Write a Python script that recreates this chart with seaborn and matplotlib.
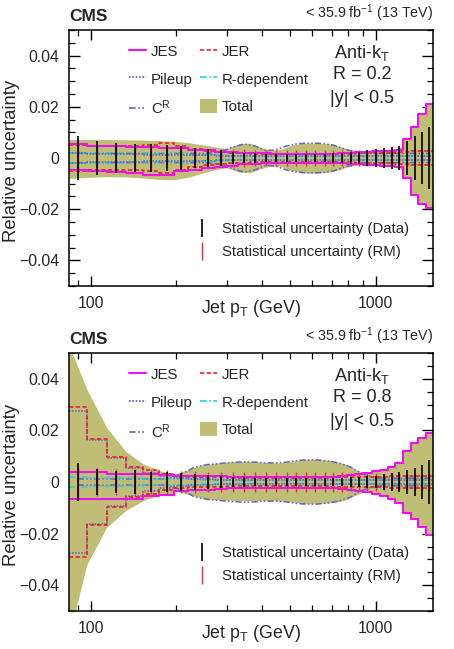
import numpy as np
import matplotlib
matplotlib.use("Agg")
import matplotlib.pyplot as plt
import seaborn as sns
from matplotlib.lines import Line2D
from matplotlib.patches import Patch
from matplotlib.ticker import FixedLocator, LogLocator, NullFormatter, FuncFormatter, MultipleLocator

# ---------------- data ----------------
edges = [84, 97, 114, 133, 153, 174, 196, 220, 245, 272, 300, 330, 362, 395, 430, 468,
         507, 548, 592, 638, 686, 737, 790, 846, 905, 967, 1032, 1101, 1172, 1248, 1327,
         1410, 1497, 1588]

# ---- R = 0.2 ----
jes02_up = [0.0055, 0.0045, 0.0045, 0.0043, 0.0043, 0.0040, 0.0038, 0.0033, 0.0030, 0.0025, 0.0022,
            0.0020, 0.0018, 0.0018, 0.0016, 0.0016, 0.0015, 0.0015, 0.0015, 0.0015, 0.0016, 0.0018,
            0.0020, 0.0022, 0.0025, 0.0027, 0.0028, 0.0029, 0.0030, 0.0075, 0.0120, 0.0170, 0.0210]
jes02_dn = [-0.0045, -0.0052, -0.0055, -0.0058, -0.0065, -0.0066, -0.0050, -0.0045, -0.0040, -0.0035,
            -0.0030, -0.0025, -0.0022, -0.0020, -0.0020, -0.0018, -0.0018, -0.0018, -0.0018, -0.0018,
            -0.0018, -0.0020, -0.0022, -0.0024, -0.0026, -0.0028, -0.0030, -0.0032, -0.0035, -0.0080,
            -0.0145, -0.0180, -0.0195]
jer02 = [0.0050, 0.0048, 0.0048, 0.0047, 0.0052, 0.0058, 0.0045, 0.0035, 0.0028, 0.0022, 0.0020,
         0.0018, 0.0016, 0.0015, 0.0015, 0.0015, 0.0015, 0.0015, 0.0015, 0.0015, 0.0016, 0.0016,
         0.0017, 0.0018, 0.0018, 0.0019, 0.0020, 0.0021, 0.0022, 0.0024, 0.0026, 0.0027, 0.0028]
pu02 = [0.0018, 0.0016, 0.0015, 0.0014, 0.0013, 0.0012, 0.0011, 0.0010, 0.0010, 0.0009, 0.0009,
        0.0008, 0.0008, 0.0008, 0.0008, 0.0008, 0.0008, 0.0008, 0.0008, 0.0008, 0.0008, 0.0008,
        0.0008, 0.0008, 0.0008, 0.0008, 0.0008, 0.0008, 0.0008, 0.0008, 0.0008, 0.0008, 0.0008]
rdep02 = [0.0020, 0.0018, 0.0018, 0.0017, 0.0016, 0.0015, 0.0014, 0.0012, 0.0011, 0.0010, 0.0009,
          0.0008, 0.0008, 0.0007, 0.0007, 0.0007, 0.0007, 0.0006, 0.0006, 0.0006, 0.0006, 0.0006,
          0.0006, 0.0006, 0.0006, 0.0006, 0.0006, 0.0006, 0.0006, 0.0006, 0.0006, 0.0006, 0.0006]
cr02 = [0.0018, 0.0018, 0.0018, 0.0018, 0.0018, 0.0018, 0.0018, 0.0018, 0.0018, 0.0025, 0.0042,
        0.0055, 0.0046, 0.0028, 0.0033, 0.0047, 0.0055, 0.0058, 0.0058, 0.0056, 0.0050, 0.0038,
        0.0028, 0.0022, 0.0018, 0.0018, 0.0018, 0.0018, 0.0018, 0.0018, 0.0018, 0.0018, 0.0018]
# total band sampled at bin edges
tot02_up = [0.0072, 0.0073, 0.0072, 0.0071, 0.0070, 0.0068, 0.0065, 0.0060, 0.0052, 0.0044, 0.0036,
            0.0055, 0.0058, 0.0042, 0.0030, 0.0035, 0.0050, 0.0057, 0.0059, 0.0058, 0.0055, 0.0048,
            0.0036, 0.0029, 0.0026, 0.0027, 0.0029, 0.0032, 0.0036, 0.0048, 0.0075, 0.0120, 0.0170,
            0.0210]
tot02_dn = [-0.0080, -0.0076, -0.0073, -0.0074, -0.0078, -0.0084, -0.0085, -0.0075, -0.0060, -0.0046,
            -0.0038, -0.0055, -0.0058, -0.0042, -0.0030, -0.0035, -0.0050, -0.0057, -0.0059, -0.0058,
            -0.0055, -0.0048, -0.0036, -0.0029, -0.0027, -0.0028, -0.0030, -0.0033, -0.0036, -0.0048,
            -0.0080, -0.0145, -0.0180, -0.0195]
stat_data02 = [0.0085, 0.0065, 0.0057, 0.0055, 0.0055, 0.0050, 0.0045, 0.0040, 0.0035, 0.0032, 0.0025,
               0.0020, 0.0018, 0.0015, 0.0015, 0.0015, 0.0015, 0.0015, 0.0016, 0.0017, 0.0018, 0.0020,
               0.0022, 0.0025, 0.0030, 0.0034, 0.0038, 0.0042, 0.0046, 0.0065, 0.0085, 0.0100, 0.0120]
stat_rm02 = [0.0055, 0.0050, 0.0046, 0.0045, 0.0048, 0.0042, 0.0040, 0.0038, 0.0036, 0.0035, 0.0034,
             0.0034, 0.0033, 0.0033, 0.0033, 0.0033, 0.0033, 0.0033, 0.0033, 0.0033, 0.0032, 0.0032,
             0.0032, 0.0031, 0.0031, 0.0030, 0.0030, 0.0030, 0.0030, 0.0030, 0.0030, 0.0030, 0.0030]

# ---- R = 0.8 ----
jes08_up = [0.0040, 0.0040, 0.0030, 0.0030, 0.0030, 0.0028, 0.0025, 0.0023, 0.0022, 0.0022, 0.0021,
            0.0020, 0.0020, 0.0020, 0.0020, 0.0020, 0.0020, 0.0020, 0.0020, 0.0020, 0.0021, 0.0023,
            0.0026, 0.0030, 0.0036, 0.0042, 0.0048, 0.0058, 0.0075, 0.0120, 0.0150, 0.0170, 0.0190]
jes08_dn = [-0.0065, -0.0065, -0.0065, -0.0065, -0.0055, -0.0050, -0.0035, -0.0032, -0.0030, -0.0028,
            -0.0025, -0.0025, -0.0025, -0.0025, -0.0025, -0.0025, -0.0025, -0.0025, -0.0025, -0.0025,
            -0.0025, -0.0027, -0.0030, -0.0035, -0.0040, -0.0048, -0.0055, -0.0065, -0.0080, -0.0120,
            -0.0145, -0.0175, -0.0205]
jer08 = [0.0290, 0.0168, 0.0098, 0.0060, 0.0045, 0.0032, 0.0025, 0.0021, 0.0019, 0.0018, 0.0017,
         0.0016, 0.0016, 0.0016, 0.0016, 0.0016, 0.0016, 0.0016, 0.0017, 0.0017, 0.0018, 0.0018,
         0.0019, 0.0019, 0.0020, 0.0020, 0.0021, 0.0022, 0.0022, 0.0023, 0.0024, 0.0025, 0.0025]
pu08 = [0.0275, 0.0162, 0.0094, 0.0055, 0.0035, 0.0022, 0.0015, 0.0012, 0.0010, 0.0009, 0.0009,
        0.0008, 0.0008, 0.0008, 0.0008, 0.0008, 0.0008, 0.0008, 0.0008, 0.0008, 0.0008, 0.0008,
        0.0008, 0.0008, 0.0008, 0.0008, 0.0008, 0.0008, 0.0008, 0.0008, 0.0008, 0.0008, 0.0008]
rdep08 = [0.0018, 0.0016, 0.0015, 0.0014, 0.0013, 0.0012, 0.0011, 0.0010, 0.0009, 0.0008, 0.0008,
          0.0008, 0.0008, 0.0008, 0.0008, 0.0008, 0.0008, 0.0008, 0.0008, 0.0008, 0.0008, 0.0008,
          0.0008, 0.0008, 0.0008, 0.0008, 0.0008, 0.0008, 0.0008, 0.0008, 0.0008, 0.0008, 0.0008]
cr08 = [0.0012, 0.0012, 0.0012, 0.0012, 0.0012, 0.0012, 0.0030, 0.0058, 0.0068, 0.0072, 0.0076,
        0.0078, 0.0077, 0.0074, 0.0074, 0.0077, 0.0083, 0.0086, 0.0086, 0.0083, 0.0078, 0.0070,
        0.0058, 0.0038, 0.0025, 0.0015, 0.0015, 0.0015, 0.0015, 0.0015, 0.0015, 0.0015, 0.0015]
tot08_up = [0.0530, 0.0360, 0.0210, 0.0118, 0.0070, 0.0045, 0.0030, 0.0048, 0.0066, 0.0072, 0.0077,
            0.0080, 0.0080, 0.0077, 0.0075, 0.0075, 0.0080, 0.0087, 0.0088, 0.0087, 0.0083, 0.0077,
            0.0068, 0.0050, 0.0036, 0.0036, 0.0042, 0.0048, 0.0058, 0.0075, 0.0120, 0.0150, 0.0170,
            0.0190]
tot08_dn = [-0.0600, -0.0320, -0.0175, -0.0110, -0.0072, -0.0050, -0.0033, -0.0048, -0.0062, -0.0068,
            -0.0071, -0.0072, -0.0072, -0.0072, -0.0072, -0.0074, -0.0078, -0.0082, -0.0084, -0.0083,
            -0.0081, -0.0077, -0.0068, -0.0052, -0.0040, -0.0040, -0.0048, -0.0055, -0.0065, -0.0080,
            -0.0120, -0.0145, -0.0175, -0.0205]
stat_data08 = [0.0072, 0.0050, 0.0042, 0.0045, 0.0040, 0.0040, 0.0035, 0.0030, 0.0028, 0.0025, 0.0020,
               0.0018, 0.0016, 0.0015, 0.0015, 0.0015, 0.0015, 0.0015, 0.0015, 0.0016, 0.0016, 0.0017,
               0.0018, 0.0020, 0.0022, 0.0025, 0.0030, 0.0035, 0.0040, 0.0046, 0.0056, 0.0066, 0.0085]
stat_rm08 = [0.0060, 0.0055, 0.0050, 0.0050, 0.0048, 0.0045, 0.0042, 0.0042, 0.0040, 0.0040, 0.0040,
             0.0040, 0.0040, 0.0040, 0.0040, 0.0040, 0.0040, 0.0040, 0.0040, 0.0038, 0.0038, 0.0037,
             0.0036, 0.0035, 0.0034, 0.0033, 0.0032, 0.0032, 0.0031, 0.0030, 0.0030, 0.0030, 0.0030]

panels = [
    dict(R="0.2", jes_up=jes02_up, jes_dn=jes02_dn, jer=jer02, pu=pu02, rdep=rdep02, cr=cr02,
         tot_up=tot02_up, tot_dn=tot02_dn, sd=stat_data02, srm=stat_rm02),
    dict(R="0.8", jes_up=jes08_up, jes_dn=jes08_dn, jer=jer08, pu=pu08, rdep=rdep08, cr=cr08,
         tot_up=tot08_up, tot_dn=tot08_dn, sd=stat_data08, srm=stat_rm08),
]

# ---------------- style ----------------
sns.set_style("ticks")
plt.rcParams['font.family'] = ['Liberation Sans', 'DejaVu Sans']
plt.rcParams['mathtext.default'] = 'regular'
plt.rcParams['axes.linewidth'] = 1.1

C_JES = '#ee11ee'
C_JER = '#e8202a'
C_PU = '#5a5ad8'
C_RD = '#20d0e0'
C_CR = '#6464c4'
C_TOT = '#c0bd76'
C_RM = '#d43a4a'
LS_JER = (0, (2.5, 1.5))
LS_PU = (0, (1, 1))
LS_RD = (0, (4, 1.5, 1, 1.5))
LS_CR = (0, (4, 1.5, 1, 1.5, 1, 1.5))

fig = plt.figure(figsize=(4.54, 6.49), dpi=100)
W, H = 454, 649
ax_top = fig.add_axes([69 / W, 1 - 286 / H, 364 / W, 256 / H])
ax_bot = fig.add_axes([69 / W, 1 - 611 / H, 364 / W, 258 / H])

e = np.array(edges, dtype=float)
centers = np.sqrt(e[:-1] * e[1:])


def steps(ax, vals, color, ls, lw):
    v = np.append(vals, vals[-1])
    sns.lineplot(x=e, y=v, ax=ax, color=color, linestyle=ls, linewidth=lw,
                 drawstyle='steps-post', estimator=None, sort=False, legend=False)


for ax, p in zip([ax_top, ax_bot], panels):
    # total band (smooth) + JES-dominated step part
    ax.fill_between(e, p['tot_dn'], p['tot_up'], color=C_TOT, lw=0, zorder=1)
    ax.fill_between(e, np.append(p['jes_dn'], p['jes_dn'][-1]), np.append(p['jes_up'], p['jes_up'][-1]),
                    step='post', color=C_TOT, lw=0, zorder=1)
    # components
    cr = np.array(p['cr'])
    sns.lineplot(x=centers, y=cr, ax=ax, color=C_CR, linestyle=LS_CR, linewidth=1.1, estimator=None, legend=False)
    sns.lineplot(x=centers, y=-cr, ax=ax, color=C_CR, linestyle=LS_CR, linewidth=1.1, estimator=None, legend=False)
    for sgn in (1, -1):
        steps(ax, sgn * np.array(p['rdep']), C_RD, LS_RD, 1.1)
        steps(ax, sgn * np.array(p['pu']), C_PU, LS_PU, 1.1)
        steps(ax, sgn * np.array(p['jer']), C_JER, LS_JER, 1.2)
    steps(ax, p['jes_up'], C_JES, '-', 1.5)
    steps(ax, p['jes_dn'], C_JES, '-', 1.5)
    # statistical uncertainties
    ax.errorbar(centers, np.zeros_like(centers), yerr=p['srm'], fmt='none', ecolor=C_RM, elinewidth=1.0, zorder=4)
    ax.errorbar(centers, np.zeros_like(centers), yerr=p['sd'], fmt='none', ecolor='black', elinewidth=1.2, zorder=5)

    # axes
    ax.set_xscale('log')
    ax.set_xlim(edges[0], edges[-1])
    ax.set_ylim(-0.05, 0.05)
    ax.xaxis.set_major_locator(FixedLocator([100, 1000]))
    ax.xaxis.set_major_formatter(FuncFormatter(lambda v, _: f"{v:.0f}"))
    ax.xaxis.set_minor_locator(LogLocator(base=10, subs=range(2, 10)))
    ax.xaxis.set_minor_formatter(NullFormatter())
    ax.yaxis.set_major_locator(FixedLocator([-0.04, -0.02, 0, 0.02, 0.04]))
    ax.yaxis.set_major_formatter(FuncFormatter(lambda v, _: ("0" if abs(v) < 1e-9 else f"{v:g}").replace('-', '\u2212')))
    ax.yaxis.set_minor_locator(MultipleLocator(0.005))
    ax.tick_params(which='both', direction='in', top=True, right=True, labelsize=11.3, color='black')
    ax.tick_params(axis='y', which='major', length=8, width=1.0, pad=7)
    ax.tick_params(axis='y', which='minor', length=4, width=0.9)
    ax.tick_params(axis='x', which='major', length=7, width=1.0, pad=7)
    ax.tick_params(axis='x', which='minor', length=4, width=0.9)
    for s in ax.spines.values():
        s.set_visible(True)
        s.set_color('black')

    ax.set_xlabel('Jet p$_{T}$ (GeV)', fontsize=12.8)
    ax.xaxis.set_label_coords(0.5, -0.045)
    ax.set_ylabel('Relative uncertainty', fontsize=13.3)
    ax.yaxis.set_label_coords(-0.135, 0.49)

    ax.text(0.0, 1.025, 'CMS', transform=ax.transAxes, ha='left', va='bottom', fontsize=12.5, weight='bold')
    ax.text(1.0, 1.025, '< 35.9 fb$^{-1}$ (13 TeV)', transform=ax.transAxes, ha='right', va='bottom', fontsize=10.3)
    ax.text(0.805, 0.91, 'Anti-k$_{T}$', transform=ax.transAxes, ha='center', va='center', fontsize=13)
    ax.text(0.805, 0.828, f'R = {p["R"]}', transform=ax.transAxes, ha='center', va='center', fontsize=13)
    ax.text(0.805, 0.733, '|y| < 0.5', transform=ax.transAxes, ha='center', va='center', fontsize=13)

    handles = [Line2D([], [], color=C_JES, lw=1.5),
               Line2D([], [], color=C_PU, lw=1.2, ls=LS_PU),
               Line2D([], [], color=C_CR, lw=1.2, ls=LS_CR),
               Line2D([], [], color=C_JER, lw=1.2, ls=LS_JER),
               Line2D([], [], color=C_RD, lw=1.2, ls=LS_RD),
               Patch(facecolor=C_TOT, edgecolor='none')]
    labels = ['JES', 'Pileup', 'C$^{R}$', 'JER', 'R-dependent', 'Total']
    leg1 = ax.legend(handles, labels, ncol=2, loc='upper left', bbox_to_anchor=(0.165, 0.945),
                     frameon=False, handlelength=1.1, handleheight=1.05, handletextpad=0.35,
                     columnspacing=0.5, labelspacing=0.82, borderpad=0, borderaxespad=0, fontsize=10.8)
    ax.add_artist(leg1)
    h2 = [Line2D([], [], color='black', marker='|', ls='none', markersize=13, mew=1.2),
          Line2D([], [], color=C_RM, marker='|', ls='none', markersize=13, mew=1.0)]
    ax.legend(h2, ['Statistical uncertainty (Data)', 'Statistical uncertainty (RM)'], loc='upper left',
              bbox_to_anchor=(0.346, 0.25), frameon=False, handlelength=1.0, handletextpad=0.8,
              labelspacing=0.6, borderpad=0, borderaxespad=0, fontsize=10.7)

fig.savefig('out.png', dpi=100)
